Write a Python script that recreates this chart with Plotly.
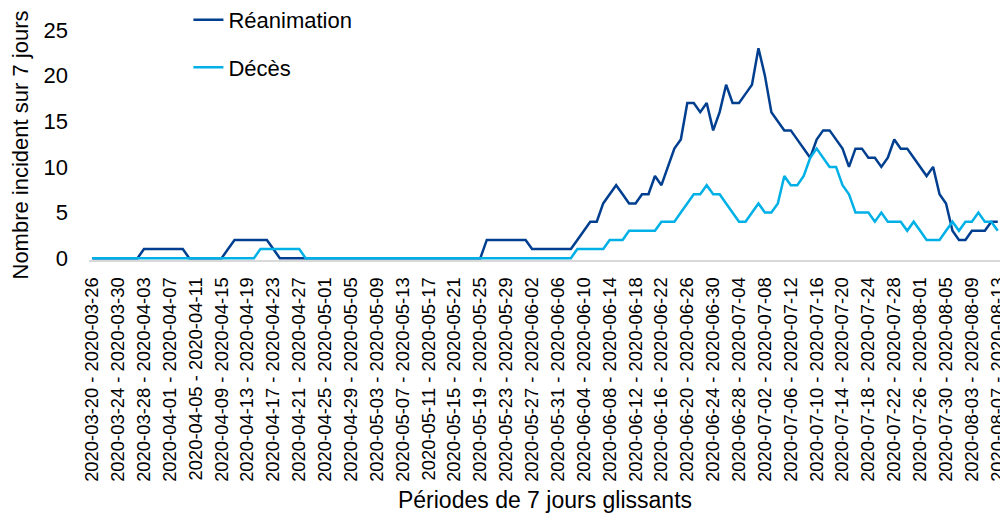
import pandas as pd
import plotly.graph_objects as go

# periodes glissantes de 7 jours (debut - fin)
debuts = pd.date_range("2020-03-20", "2020-08-07", freq="D")
periodes = [f"{d:%Y-%m-%d} - {(d + pd.Timedelta(days=6)):%Y-%m-%d}" for d in debuts]

reanimation = (
    [0] * 8 + [1] * 7 + [0] * 6 + [1] + [2] * 6 + [1] + [0] * 32
    + [2] * 7 + [1] * 7
    + [2, 3, 4, 4, 6, 7, 8, 7, 6, 6, 7, 7, 9, 8, 10, 12, 13, 17, 17, 16,
       17, 14, 16, 19, 17, 17, 18, 19, 23, 20, 16, 15, 14, 14, 13, 12, 11, 13, 14, 14,
       13, 12, 10, 12, 12, 11, 11, 10, 11, 13, 12, 12, 11, 10, 9, 10, 7, 6, 3, 2,
       2, 3, 3, 3, 4, 4]
)

deces = (
    [0] * 26 + [1] * 7 + [0] * 42
    + [1] * 5 + [2] * 3 + [3] * 5 + [4] * 3
    + [5, 6, 7, 7, 8, 7, 7, 6, 5, 4, 4, 5, 6, 5, 5, 6, 9, 8, 8, 9,
       11, 12, 11, 10, 10, 8, 7, 5, 5, 5, 4, 5, 4, 4, 4, 3, 4, 3, 2, 2,
       2, 3, 4, 3, 4, 4, 5, 4, 4, 3]
)

fig = go.Figure()
fig.add_trace(go.Scatter(x=periodes, y=reanimation, mode="lines", name="Réanimation",
                         legendgroup="a", line=dict(color="#003f8f", width=2.5)))
fig.add_trace(go.Scatter(x=periodes, y=deces, mode="lines", name="Décès",
                         legendgroup="b", line=dict(color="#00b0e6", width=2.5)))

# la page html ajoute une marge de 8 px : figure un peu plus petite que la fenetre
fig.update_layout(
    width=1000, height=505,
    margin=dict(l=81, r=7, t=22, b=253, autoexpand=False),
    paper_bgcolor="white", plot_bgcolor="white",
    font=dict(family="Liberation Sans, Arial", color="black", size=22),
    showlegend=True,
    legend=dict(x=0.109, y=1.135, xanchor="left", yanchor="top",
                bgcolor="rgba(0,0,0,0)", tracegroupgap=16,
                font=dict(size=22)),
)
fig.update_xaxes(
    type="category", range=[-0.5, len(periodes) - 0.5], automargin=True,
    tickvals=periodes[::4], tickangle=-90, tickfont=dict(size=18.4),
    ticklabelstandoff=8, ticklabeloverflow="allow",
    showgrid=False, showline=True, linecolor="#d9d9d9", linewidth=2,
    ticks="", title=dict(text="Périodes de 7 jours glissants", font=dict(size=23), standoff=13),
)
fig.update_yaxes(
    range=[-0.2, 25], tickvals=[0, 5, 10, 15, 20, 25], tickfont=dict(size=22),
    showgrid=False, zeroline=False, showline=False, ticks="", automargin=False,
    ticklabelstandoff=20,
    title=dict(text="Nombre incident sur 7 jours", font=dict(size=22), standoff=12),
)

fig.write_html("out.html")
